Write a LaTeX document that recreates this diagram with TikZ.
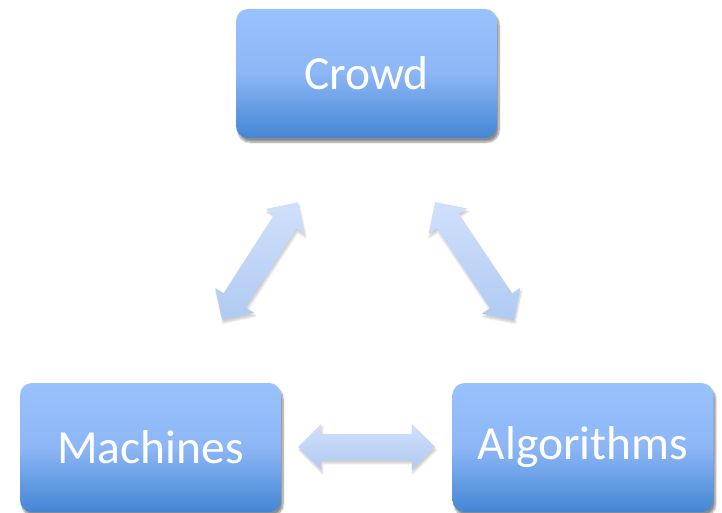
\documentclass[tikz,border=0pt]{standalone}
\usepackage{fontspec}
\setmainfont{Carlito}
\usetikzlibrary{shapes.arrows,shadows.blur}
\definecolor{boxtop}{RGB}{153,194,253}
\definecolor{boxmid}{RGB}{140,182,245}
\definecolor{boxbot}{RGB}{68,134,212}
\definecolor{arrtop}{RGB}{208,224,251}
\definecolor{arrbot}{RGB}{176,202,242}
\tikzset{
  boxnode/.style={rounded corners=12pt, minimum width=261pt, minimum height=129pt,
    inner sep=0pt, top color=boxtop, bottom color=boxbot, middle color=boxmid,
    text=white, font=\fontsize{47.5}{52}\selectfont,
    blur shadow={shadow xshift=2pt, shadow yshift=-4pt, shadow blur steps=8, shadow blur extra rounding=3pt, shadow opacity=45}},
  dblarrow/.style={double arrow, double arrow head extend=10pt, double arrow tip angle=90,
    inner xsep=0pt, inner ysep=13pt, top color=arrtop, bottom color=arrbot,
    blur shadow={shadow xshift=1pt, shadow yshift=-3pt, shadow blur steps=6, shadow opacity=20}}
}
\begin{document}
\begin{tikzpicture}[x=1pt,y=-1pt]
\useasboundingbox (0,0) rectangle (722,513);
\node[boxnode] (crowd) at (366.5,73.5) {Crowd};
\node[boxnode] (mach) at (150.5,447.5) {Machines};
\node[boxnode] (alg) at (583,447.5) {Algorithms};
\coordinate (l1) at (222,320);
\coordinate (l2) at (298,202);
\coordinate (r1) at (435,202);
\coordinate (r2) at (514,320);
\coordinate (b1) at (298,447);
\coordinate (b2) at (435,447);
\path (l1) -- node[dblarrow, sloped, minimum height=140pt] (al) {} (l2);
\path (r1) -- node[dblarrow, sloped, minimum height=142pt] (ar) {} (r2);
\path (b1) -- node[dblarrow, sloped, minimum height=137pt] (ab) {} (b2);
\end{tikzpicture}
\end{document}
